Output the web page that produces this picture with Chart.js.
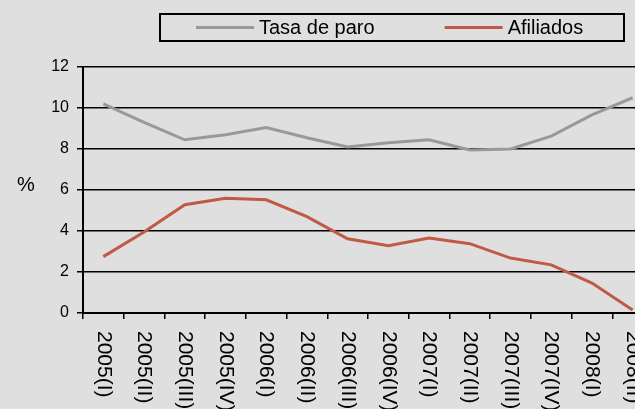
<!DOCTYPE html>
<html lang="es">
<head>
<meta charset="utf-8">
<title>Tasa de paro y afiliados</title>
<script src="https://cdn.jsdelivr.net/npm/chart.js@4.4.1/dist/chart.umd.min.js"></script>
<style>
  html, body { margin: 0; padding: 0; background: #dfdfdf; overflow: hidden; }
  #wrap { width: 658px; height: 409px; }
</style>
</head>
<body>
<div id="wrap"><canvas id="grafico" width="658" height="409"></canvas></div>
<script>
/* ===== Datos ===== */
const trimestres = [
  "2005(I)", "2005(II)", "2005(III)", "2005(IV)",
  "2006(I)", "2006(II)", "2006(III)", "2006(IV)",
  "2007(I)", "2007(II)", "2007(III)", "2007(IV)",
  "2008(I)", "2008(II)"
];
const tasaParo  = [10.2, 9.3, 8.45, 8.7, 9.05, 8.55, 8.1, 8.3, 8.45, 7.95, 8.0, 8.63, 9.66, 10.5];
const afiliados = [2.75, 3.95, 5.28, 5.6, 5.52, 4.7, 3.62, 3.28, 3.66, 3.38, 2.68, 2.35, 1.46, 0.15];

const Y_MIN = 0, Y_MAX = 12, Y_PASO = 2;
const TITULO_Y = "%";

const FUENTE = '"Liberation Sans", Arial, sans-serif';

/* ===== Plugin: etiquetas verticales, leyenda con marco y "%" ===== */
const extras = {
  id: "extras",
  afterDraw(chart) {
    const { ctx, scales: { x } } = chart;
    ctx.save();

    // etiquetas del eje x, giradas 90° (se leen de arriba abajo)
    ctx.font = "21px " + FUENTE;
    ctx.fillStyle = "#000";
    ctx.textAlign = "left";
    ctx.textBaseline = "middle";
    trimestres.forEach((t, i) => {
      ctx.save();
      ctx.translate(x.getPixelForValue(i), x.top + 18);
      ctx.rotate(Math.PI / 2);
      ctx.fillText(t, 0, 0);
      ctx.restore();
    });

    // título del eje y
    ctx.font = "20px " + FUENTE;
    ctx.textAlign = "center";
    ctx.fillText(TITULO_Y, 26, 185);

    // leyenda
    ctx.lineWidth = 2;
    ctx.strokeStyle = "#000";
    ctx.strokeRect(160, 14, 464, 27);
    ctx.textAlign = "left";
    ctx.textBaseline = "alphabetic";
    let cx = 196;
    chart.data.datasets.forEach(ds => {
      ctx.strokeStyle = ds.borderColor;
      ctx.lineWidth = 3;
      ctx.beginPath();
      ctx.moveTo(cx, 27.5);
      ctx.lineTo(cx + 58, 27.5);
      ctx.stroke();
      ctx.fillStyle = "#000";
      ctx.fillText(ds.label, cx + 63, 34);
      cx += 63 + ctx.measureText(ds.label).width + 70;
    });

    ctx.restore();
  }
};

/* ===== Gráfico ===== */
new Chart(document.getElementById("grafico"), {
  type: "line",
  data: {
    labels: trimestres,
    datasets: [
      {
        label: "Tasa de paro",
        data: tasaParo,
        borderColor: "#999999",
        borderWidth: 3,
        pointRadius: 0,
        tension: 0,
        fill: false,
      },
      {
        label: "Afiliados",
        data: afiliados,
        borderColor: "#c05a46",
        borderWidth: 3,
        pointRadius: 0,
        tension: 0,
        fill: false,
      },
    ],
  },
  options: {
    responsive: false,
    animation: false,
    layout: { padding: { top: 67, right: 5, bottom: 0, left: 0 } },
    plugins: {
      legend: { display: false },
      tooltip: { enabled: false },
    },
    scales: {
      x: {
        offset: true,
        grid: { offset: true, drawOnChartArea: false, drawTicks: true, tickLength: 6, color: "#000", lineWidth: 1.5 },
        border: { color: "#000", width: 2 },
        ticks: { display: false },
        afterFit: s => { s.height = 96; },
      },
      y: {
        min: Y_MIN,
        max: Y_MAX,
        ticks: { stepSize: Y_PASO, color: "#000", padding: 8, font: { size: 16, family: FUENTE } },
        grid: { color: "#000", lineWidth: 1.5, tickLength: 6 },
        border: { color: "#000", width: 2 },
        afterFit: s => { s.width = 83; },
      },
    },
  },
  plugins: [extras],
});
</script>
</body>
</html>
